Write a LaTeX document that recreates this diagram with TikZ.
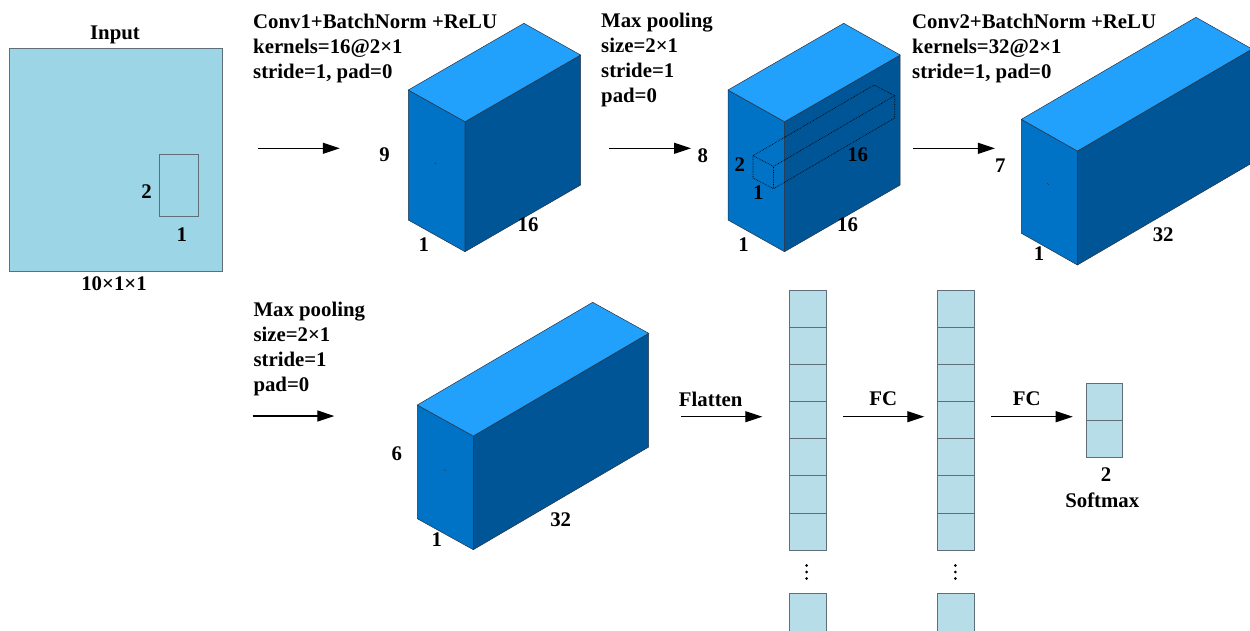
\documentclass[tikz,border=0pt]{standalone}
\usepackage{fontspec}
\setmainfont{Liberation Serif}
\usetikzlibrary{arrows.meta}
\definecolor{inputfill}{RGB}{156,213,229}
\definecolor{cellfill}{RGB}{183,221,232}
\definecolor{topcol}{RGB}{33,160,252}
\definecolor{leftcol}{RGB}{0,115,198}
\definecolor{rightcol}{RGB}{0,85,150}
\definecolor{edgecol}{RGB}{40,50,65}
\definecolor{cellline}{RGB}{95,110,120}
\newcommand\cubo[7]{%
 \filldraw[leftf] (#1,#2) -- ++(#3,#4) -- ++(0,#7) -- ++({-1*(#3)},{-1*(#4)}) -- cycle;
 \filldraw[rightf] ({#1+#3},{#2+#4}) -- ++(#5,#6) -- ++(0,#7) -- ++({-1*(#5)},{-1*(#6)}) -- cycle;
 \filldraw[topf] (#1,#2) -- ++(#3,#4) -- ++(#5,#6) -- ++({-1*(#3)},{-1*(#4)}) -- cycle;
}
\begin{document}
\begin{tikzpicture}[x=1pt,y=-1pt,
  lbl/.style={font=\fontsize{20.8}{25}\selectfont\bfseries, inner sep=0pt},
  flow/.style={-{Triangle[length=17pt,width=11pt]}, line width=1.2pt},
  leftf/.style={fill=leftcol, draw=edgecol, line width=0.5pt, line join=round},
  rightf/.style={fill=rightcol, draw=edgecol, line width=0.5pt, line join=round},
  topf/.style={fill=topcol, draw=edgecol, line width=0.5pt, line join=round},
  cellbox/.style={fill=cellfill, draw=cellline, line width=0.6pt},
  hidden/.style={densely dotted, line width=0.7pt, black},
  tick/.style={line width=0.5pt, edgecol}]
\useasboundingbox (0,0) rectangle (1250,630);

% ---------- input ----------
\draw[fill=inputfill, draw=cellline, line width=0.6pt] (9,48) rectangle (222.7,271.7);
\draw[draw=cellline, line width=0.5pt] (159.6,154.3) rectangle (198.2,216.3);
\node[lbl, anchor=base] (tin) at (115,39.5) {Input};
\node[lbl, anchor=base] (tinsz) at (114,290.5) {10×1×1};
\node[lbl] (tin2) at (146.6,191.7) {2};
\node[lbl] (tin1) at (181.8,235) {1};

% ---------- conv1 ----------
\node[lbl, anchor=base west] (c1a) at (253,28) {Conv1+BatchNorm +ReLU};
\node[lbl, anchor=base west] (c1b) at (253,53) {kernels=16@2×1};
\node[lbl, anchor=base west] (c1c) at (253,78) {stride=1, pad=0};
\coordinate (a1s) at (258.3,148.3);
\coordinate (a1e) at (339.8,148.3);
\draw[flow] (a1s) -- (a1e);
\cubo{408.3}{90}{56.7}{31.7}{115.6}{-66.7}{130}
\draw[tick] (434.8,162.6) -- (436.2,164);
\node[lbl] (c1h) at (384.6,155) {9};
\node[lbl] (c1d) at (423.7,244.3) {1};
\node[lbl] (c1w) at (528,225) {16};

% ---------- max pooling 1 ----------
\node[lbl, anchor=base west] (p1a) at (601,27) {Max pooling};
\node[lbl, anchor=base west] (p1b) at (601,52) {size=2×1};
\node[lbl, anchor=base west] (p1c) at (601,77) {stride=1};
\node[lbl, anchor=base west] (p1d) at (601,102) {pad=0};
\coordinate (a2s) at (609,148.3);
\coordinate (a2e) at (691,148.3);
\draw[flow] (a2s) -- (a2e);
\cubo{728}{90}{56.5}{31.7}{115.7}{-66.7}{130}
% dotted pooling window
\draw[hidden] (753,155.7) -- ++(20.5,10.7) -- ++(0,22.3) -- ++(-20.5,-10.7) -- cycle;
\draw[hidden] (753,155.7) -- ++(121.2,-70.7) -- ++(20.5,10.7) -- ++(-121.2,70.7);
\draw[hidden] (894.7,95.7) -- ++(0,22.3) -- ++(-121.2,70.7);
\node[lbl] (p1h) at (702.8,155.7) {8};
\node[lbl] (p1k2) at (739.8,164.3) {2};
\node[lbl] (p1k1) at (758.4,192.7) {1};
\node[lbl] (p1k16) at (857.7,155) {16};
\node[lbl] (p1d1) at (743.6,244.3) {1};
\node[lbl] (p1w) at (847.6,225) {16};

% ---------- conv2 ----------
\node[lbl, anchor=base west] (c2a) at (912,28) {Conv2+BatchNorm +ReLU};
\node[lbl, anchor=base west] (c2b) at (912,53) {kernels=32@2×1};
\node[lbl, anchor=base west] (c2c) at (912,78) {stride=1, pad=0};
\coordinate (a3s) at (913.2,148.3);
\coordinate (a3e) at (994.9,148.3);
\draw[flow] (a3s) -- (a3e);
\cubo{1021.4}{119.3}{56}{31.7}{174.6}{-102}{114}
\draw[tick] (1047.2,183.3) -- (1048.6,184.7);
\node[lbl] (c2h) at (1000.4,165.7) {7};
\node[lbl] (c2d) at (1039,254) {1};
\node[lbl] (c2w) at (1163.2,234.3) {32};

% ---------- max pooling 2 ----------
\node[lbl, anchor=base west] (p2a) at (253.3,316.7) {Max pooling};
\node[lbl, anchor=base west] (p2b) at (253.3,341.7) {size=2×1};
\node[lbl, anchor=base west] (p2c) at (253.3,366.7) {stride=1};
\node[lbl, anchor=base west] (p2d) at (253.3,391.7) {pad=0};
\coordinate (a4s) at (252.7,416);
\coordinate (a4e) at (334.3,416);
\draw[flow] (a4s) -- (a4e);
\cubo{417.3}{405}{56}{31}{175.4}{-102.7}{113.7}
\draw[tick] (444,469.6) -- (445.4,471);
\node[lbl] (p2h) at (396.7,453.3) {6};
\node[lbl] (p2d1) at (436.7,539.3) {1};
\node[lbl] (p2w) at (560.7,519.3) {32};

% ---------- flatten ----------
\node[lbl, anchor=base] (tfl) at (710.7,406.7) {Flatten};
\coordinate (a5s) at (681,416.7);
\coordinate (a5e) at (762.3,416.7);
\draw[flow] (a5s) -- (a5e);
\foreach \i in {0,...,6} {
  \draw[cellbox] (789.3,{290+37.14*\i}) rectangle (826.3,{290+37.14*(\i+1)});
  \draw[cellbox] (937.7,{290+37.14*\i}) rectangle (974.3,{290+37.14*(\i+1)});
}
\draw[cellbox] (789.3,593.3) rectangle (826.3,631);
\draw[cellbox] (937.7,593.3) rectangle (974.3,631);
\foreach \yy in {565.5,572,578.5} {
  \fill (806.7,\yy) circle (1.5pt);
  \fill (955.3,\yy) circle (1.5pt);
}

% ---------- FC ----------
\node[lbl, anchor=base] (tfc1) at (883.3,405.7) {FC};
\coordinate (a6s) at (843,416.7);
\coordinate (a6e) at (924.3,416.7);
\draw[flow] (a6s) -- (a6e);
\node[lbl, anchor=base] (tfc2) at (1026.7,405.7) {FC};
\coordinate (a7s) at (991,416.7);
\coordinate (a7e) at (1072.7,416.7);
\draw[flow] (a7s) -- (a7e);
\draw[cellbox] (1086,383.3) rectangle (1122.7,420);
\draw[cellbox] (1086,420) rectangle (1122.7,457.3);
\node[lbl] (tout2) at (1106,475) {2};
\node[lbl, anchor=base] (tsm) at (1102.3,507.7) {Softmax};
\end{tikzpicture}
\end{document}
